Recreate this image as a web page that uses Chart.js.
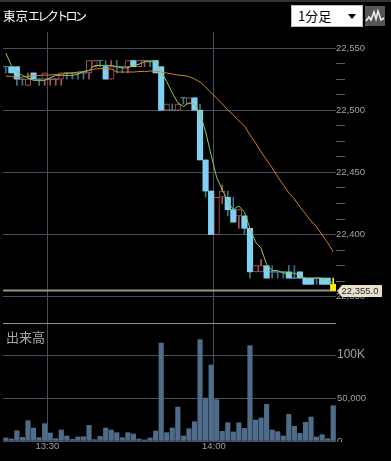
<!DOCTYPE html>
<html>
<head>
<meta charset="utf-8">
<script src="https://cdn.jsdelivr.net/npm/chart.js"></script>
<style>
  html, body { margin: 0; padding: 0; background: #000; overflow: hidden; }
  #wrap { position: relative; width: 391px; height: 461px; background: #000; }
  canvas { position: absolute; left: 0; top: 0; }
  #strip { position: absolute; left: 0; top: 0; width: 391px; height: 2px; background: #333; }
  #title { position: absolute; left: 3px; top: 6px; color: #fff; font: 12.5px "Noto Sans CJK JP"; white-space: nowrap; }
  #title span { font-size: 12px; letter-spacing: -2.6px; }
  #volTitle { position: absolute; left: 6px; top: 327px; color: #a8a8a8; font: 13px "Noto Sans CJK JP"; white-space: nowrap; }
  #period { position: absolute; left: 291px; top: 5px; width: 70px; height: 20px; background: #fff; border: 1px solid #bbb; color: #000; font: 13px/20px "Noto Sans CJK JP"; text-indent: 6px; }
  #period i { position: absolute; right: 6px; top: 8px; border: 4px solid transparent; border-top: 5px solid #000; border-bottom: 0; }
  #mode { position: absolute; left: 365px; top: 6px; width: 20px; height: 20px; background: #555; }
</style>
</head>
<body>
<div id="wrap">
  <canvas id="plot" width="391" height="461"></canvas>
  <div id="strip"></div>
  <div id="title">東京<span>エレクトロン</span></div>
  <div id="volTitle">出来高</div>
  <div id="period">1分足<i></i></div>
  <svg id="mode" viewBox="0 0 20 20"><polyline points="1,15 4,11 6,14 9,6 11,13 13,5 16,14 19,12" fill="none" stroke="#eee" stroke-width="1.6"/></svg>
</div>
<script>
const opens = [22535,22535,22535,22525,22520,22530,22525,22525,22525,22525,22525,22530,22530,22530,22530,22530,22535,22540,22535,22525,
  22535,22535,22535,22540,22535,22540,22540,22540,22535,22500,22500,22500,22510,22505,22510,22500,22460,22435,22400,22430,
  22430,22420,22415,22415,22405,22370,22370,22375,22370,22370,22370,22370,22365,22370,22365,22365,22365,22365,22365,22360];
const highs = [22535,22535,22535,22525,22530,22530,22525,22530,22525,22525,22530,22530,22530,22530,22530,22540,22540,22540,22540,22540,
  22540,22535,22540,22540,22540,22540,22540,22540,22535,22505,22505,22505,22510,22510,22510,22505,22460,22435,22430,22440,
  22435,22430,22420,22415,22405,22375,22380,22375,22375,22370,22370,22375,22375,22370,22365,22365,22365,22365,22365,22365];
const lows = [22530,22530,22520,22520,22520,22525,22520,22520,22520,22520,22520,22525,22525,22525,22525,22525,22535,22535,22525,22525,
  22530,22530,22530,22535,22535,22535,22535,22530,22500,22500,22500,22500,22505,22505,22500,22460,22430,22400,22400,22425,
  22415,22410,22405,22400,22365,22370,22370,22365,22365,22365,22365,22365,22365,22365,22360,22360,22360,22360,22360,22355];
const closes = [22535,22530,22525,22525,22525,22525,22525,22530,22525,22525,22530,22530,22530,22530,22530,22540,22540,22540,22525,22535,
  22535,22535,22540,22535,22540,22540,22540,22530,22500,22505,22500,22505,22510,22510,22500,22460,22435,22400,22430,22435,
  22420,22410,22420,22405,22370,22375,22375,22365,22370,22370,22370,22365,22365,22365,22360,22360,22365,22360,22360,22355];
const maShort = [22546,22536,22531,22528,22526,22524,22524,22524,22526,22528,22528,22528,22528,22529,22531,22532,22536,22536,22536,22536,
  22535,22534,22534,22536,22537,22539,22539,22539,22531,22523,22514,22506,22503,22506,22505,22497,22483,22464,22446,22436,
  22427,22420,22423,22418,22405,22394,22389,22376,22371,22371,22369,22369,22369,22367,22365,22365,22365,22365,22363,22361];
const maLong = [22527.5,22527.1,22526.3,22526.7,22527.5,22527.5,22527.9,22528.3,22528.3,22528.7,22529.1,22529.5,22529.9,22530.7,22531.1,22531.9,22533.1,22533.5,22533.5,22533.1,
  22530.7,22530.7,22530.7,22530.7,22531.1,22531.1,22531.5,22531.5,22530.7,22529.9,22529.1,22528.3,22527.9,22527.1,22525.1,22522.7,22518.7,22513.9,22509.8,22505,
  22500.2,22496.2,22491.4,22487.4,22480.1,22473.7,22466.5,22460,22453.6,22446.4,22440,22433.5,22428.7,22422.3,22416.7,22411,22406.2,22399.8,22393.4,22386.2];
const volumes = [3500,2300,12000,4300,23600,15100,3900,20200,9300,2700,12800,5800,1900,4700,5000,18200,1600,5400,15100,12800,
  9700,3900,9700,8100,2300,1200,3500,11600,114000,9700,15100,39500,5800,14300,22500,118000,50000,88400,48100,11200,
  21300,10500,21300,14700,110900,24400,26700,42600,12800,10900,5800,31000,17100,8900,21700,27900,4700,7400,2700,41100];
const upDojis = [8, 9, 25];
const lastPrice = 22355;
const timeTicks = [7.5, 37.5];
const timeLabels = ["13:30", "14:00"];
const priceMajors = [22550, 22500, 22450, 22400, 22350];
const priceMinors = [22537.5, 22525, 22512.5, 22487.5, 22475, 22462.5, 22437.5, 22425, 22412.5, 22387.5, 22375, 22362.5];
const volTicks = [0, 50000, 100000];
const volLabels = ["0", "50,000", "100K"];
const volDivider = 137000;

const BLUE = "#7fd0f2", TEAL = "#3f7488", RED = "#a5545a", YELLOW = "#ffee00";
const GRID = "#4a4e60", AXIS = "#9aa3ad";
const FONT = '"Liberation Sans", sans-serif';
const last = closes.length - 1;
const isUp = i => closes[i] > opens[i] || upDojis.includes(i);
const wickColor = i => i === last ? YELLOW : (isUp(i) ? RED : TEAL);
const xy = arr => arr.map((v, i) => ({ x: i, y: v }));

const overlay = {
  id: "overlay",
  // vol axis has no width of its own, its labels get clipped otherwise
  afterLayout(chart) { chart.scales.vol.right = chart.width; },
  afterDraw(chart) {
    const ctx = chart.ctx;
    // 0 label is cut off by the panel edge in the original
    ctx.fillStyle = "#000";
    ctx.fillRect(337, 442, 54, 12);
    const y = Math.round(chart.scales.price.getPixelForValue(lastPrice));
    ctx.fillStyle = "#e9e0c8";
    ctx.beginPath();
    ctx.moveTo(337, y);
    ctx.lineTo(342, y - 6);
    ctx.lineTo(382, y - 6);
    ctx.lineTo(382, y + 6);
    ctx.lineTo(342, y + 6);
    ctx.closePath();
    ctx.fill();
    ctx.fillStyle = "#1c2630";
    ctx.font = "9.5px " + FONT;
    ctx.textAlign = "center";
    ctx.textBaseline = "middle";
    ctx.fillText(lastPrice.toLocaleString("en-US", { minimumFractionDigits: 1 }), 360, y + 0.5);
  }
};

new Chart("plot", {
  type: "bar",
  plugins: [overlay],
  data: {
    datasets: [
      { type: "line", data: xy(maShort), yAxisID: "price", borderColor: "#8fc95a", borderWidth: 1, pointRadius: 0, order: 1 },
      { type: "line", data: xy(maLong), yAxisID: "price", borderColor: "#d07f2c", borderWidth: 1, pointRadius: 0, order: 2 },
      {
        type: "line", showLine: false, yAxisID: "price", order: 3,
        data: closes.map((c, i) => ({ x: i, y: c })).filter(p => opens[p.x] === p.y),
        pointStyle: "line", pointRadius: 2.5, pointBorderWidth: 1,
        pointBorderColor: c => wickColor(c.raw.x)
      },
      {
        data: opens.map((o, i) => ({ x: i, y: [o, closes[i]] })), yAxisID: "price", order: 4,
        grouped: false, barThickness: 5.5, borderSkipped: false,
        backgroundColor: c => c.dataIndex === last ? YELLOW : (closes[c.dataIndex] > opens[c.dataIndex] ? "#000" : BLUE),
        borderColor: RED,
        borderWidth: c => closes[c.dataIndex] > opens[c.dataIndex] ? 1 : 0
      },
      {
        data: lows.map((l, i) => ({ x: i, y: [l, highs[i]] })), yAxisID: "price", order: 5,
        grouped: false, barThickness: 1,
        backgroundColor: c => wickColor(c.dataIndex)
      },
      {
        type: "line", yAxisID: "price", order: 6, pointRadius: 0, borderColor: "#9a9482", borderWidth: 2,
        data: [{ x: -0.5, y: lastPrice }, { x: 59.5, y: lastPrice }]
      },
      {
        data: xy(volumes), yAxisID: "vol", order: 7,
        grouped: false, barThickness: 4.5, backgroundColor: "#4f6c8a"
      }
    ]
  },
  options: {
    responsive: false,
    animation: false,
    layout: { padding: { left: 3, top: 32, right: 0, bottom: 8 }, autoPadding: false },
    plugins: { legend: { display: false }, tooltip: { enabled: false } },
    scales: {
      x: {
        type: "linear", min: -0.5, max: 59.5, offset: false,
        border: { display: false },
        grid: { color: GRID, drawTicks: false, offset: false },
        afterBuildTicks: s => { s.ticks = timeTicks.map(v => ({ value: v })); },
        afterFit: s => { s.height = 12; },
        ticks: {
          padding: 0, autoSkip: false, maxRotation: 0,
          color: AXIS, font: { family: FONT, size: 9.5 },
          callback: v => timeLabels[timeTicks.indexOf(v)]
        }
      },
      price: {
        type: "linear", position: "right", weight: 2,
        min: 22234, max: 22562.9,
        border: { display: false },
        afterBuildTicks: s => { s.ticks = priceMajors.concat(priceMinors).map(v => ({ value: v })); },
        afterFit: s => { s.width = 55; },
        grid: {
          tickLength: 9,
          color: c => priceMajors.includes(c.tick.value) ? GRID : "transparent",
          tickColor: c => priceMajors.includes(c.tick.value) ? "transparent" : "#5a5f70"
        },
        ticks: {
          padding: -9, autoSkip: false, color: AXIS, font: { family: FONT, size: 9.5 },
          callback: v => priceMajors.includes(v) ? v.toLocaleString("en-US") : ""
        }
      },
      vol: {
        type: "linear", position: "right", weight: 1,
        min: 0, max: 475900,
        border: { display: false },
        afterBuildTicks: s => { s.ticks = volTicks.concat(volDivider).map(v => ({ value: v })); },
        afterFit: s => { s.width = 0; },
        grid: {
          drawTicks: false,
          color: c => c.tick.value === volDivider ? "#8f8f8f" : GRID
        },
        ticks: {
          padding: 1, autoSkip: false, color: AXIS,
          font: c => ({ family: FONT, size: c.tick && c.tick.value === 100000 ? 12 : 9.5 }),
          callback: v => volTicks.includes(v) ? volLabels[volTicks.indexOf(v)] : ""
        }
      }
    }
  }
});
</script>
</body>
</html>
